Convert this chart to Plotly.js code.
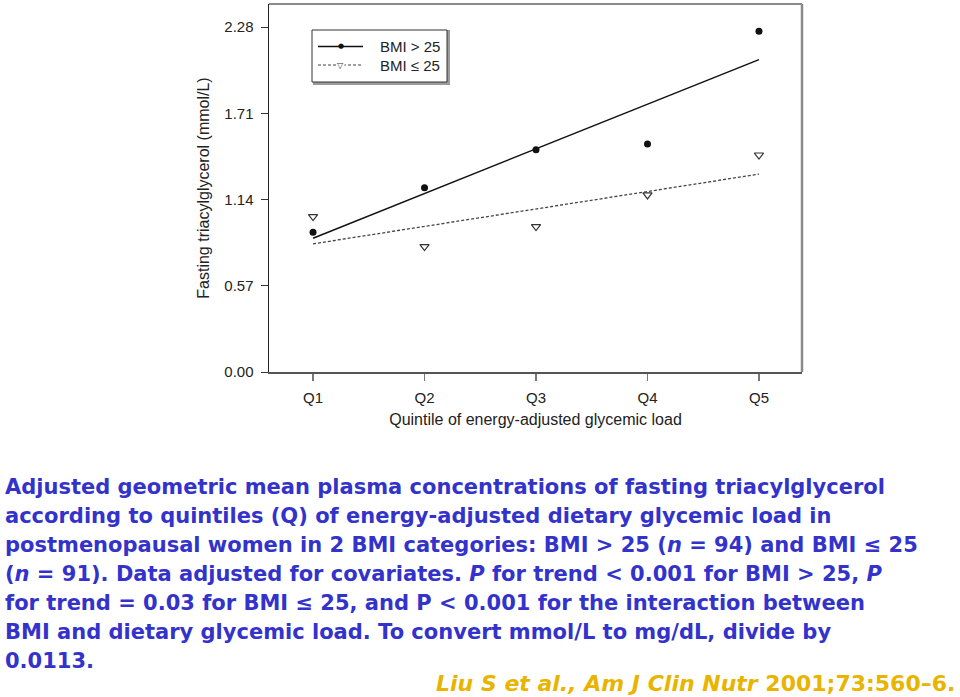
<!DOCTYPE html>
<html>
<head>
<meta charset="utf-8">
<script src="https://cdn.plot.ly/plotly-3.0.1.min.js"></script>
<style>html,body{margin:0;padding:0;background:#fff;}#chart{width:960px;height:697px;}</style>
</head>
<body>
<div id="chart"></div>
<script>
// ---- data ----
const quintiles = ['Q1', 'Q2', 'Q3', 'Q4', 'Q5'];
const bmiOver25 = [0.923, 1.218, 1.469, 1.506, 2.252];
const bmiUnder25 = [1.027, 0.829, 0.961, 1.170, 1.434];
const trendX = ['Q1', 'Q5'];
const trendOver25 = [0.884, 2.065];
const trendUnder25 = [0.847, 1.308];
const yTickVals = [0.00, 0.57, 1.14, 1.71, 2.28];
const legendNames = ['BMI > 25', 'BMI \u2264 25'];
const captionLines = [
  'Adjusted geometric mean plasma concentrations of fasting triacylglycerol',
  'according to quintiles (Q) of energy-adjusted dietary glycemic load in',
  'postmenopausal women in 2 BMI categories: BMI &gt; 25 (<i>n</i> = 94) and BMI \u2264 25',
  '(<i>n</i> = 91). Data adjusted for covariates. <i>P</i> for trend &lt; 0.001 for BMI &gt; 25, <i>P</i>',
  'for trend = 0.03 for BMI \u2264 25, and P &lt; 0.001 for the interaction between',
  'BMI and dietary glycemic load. To convert mmol/L to mg/dL, divide by',
  '0.0113.'
];
const citation = '<i>Liu S et al., Am J Clin Nutr</i> 2001;73:560\u20136.';

// ---- layout helpers (pixel -> paper) ----
const L = 269, R = 802, T = 4, B = 372;
const px = x => (x - L) / (R - L);
const py = y => (B - y) / (B - T);

const tickFont = {family: 'Liberation Sans, Arial, sans-serif', size: 15, color: '#222'};
const titleFont = {family: 'Liberation Sans, Arial, sans-serif', size: 16, color: '#222'};

const traces = [
  {x: quintiles, y: bmiOver25, mode: 'markers', marker: {symbol: 'circle', size: 7, color: '#111'}, showlegend: false},
  {x: quintiles, y: bmiUnder25, mode: 'markers', marker: {symbol: 'triangle-down-open', size: 8, color: '#333', line: {width: 1.2}}, showlegend: false},
  {x: trendX, y: trendOver25, mode: 'lines', line: {color: '#111', width: 1.4}, showlegend: false, hoverinfo: 'skip'},
  {x: trendX, y: trendUnder25, mode: 'lines', line: {color: '#444', width: 1.3, dash: '3px,2px'}, showlegend: false, hoverinfo: 'skip'}
];

const shapes = [
  {type: 'line', xref: 'paper', yref: 'paper', x0: 0, x1: 1, y0: 1, y1: 1, line: {color: '#8a8a8a', width: 2}},
  {type: 'line', xref: 'paper', yref: 'paper', x0: 1, x1: 1, y0: 0, y1: 1, line: {color: '#8a8a8a', width: 2.5}},
  {type: 'rect', xref: 'paper', yref: 'paper', x0: px(314), x1: px(449), y0: py(84), y1: py(31), line: {color: '#9a9a9a', width: 2}, fillcolor: '#9a9a9a'},
  {type: 'rect', xref: 'paper', yref: 'paper', x0: px(312), x1: px(447), y0: py(82), y1: py(30), line: {color: '#333', width: 1}, fillcolor: '#fff'},
  {type: 'line', xref: 'paper', yref: 'paper', x0: px(318), x1: px(363), y0: py(46.5), y1: py(46.5), line: {color: '#111', width: 1.4}},
  {type: 'line', xref: 'paper', yref: 'paper', x0: px(318), x1: px(363), y0: py(65), y1: py(65), line: {color: '#444', width: 1.2, dash: '3px,2px'}}
];

const annotations = [
  {xref: 'paper', yref: 'paper', x: px(378), y: py(46.5), xanchor: 'left', yanchor: 'middle', showarrow: false, text: legendNames[0], font: tickFont},
  {xref: 'paper', yref: 'paper', x: px(378), y: py(65), xanchor: 'left', yanchor: 'middle', showarrow: false, text: legendNames[1], font: tickFont},
  {xref: 'paper', yref: 'paper', x: px(340.5), y: py(46.5), xanchor: 'center', yanchor: 'middle', showarrow: false, text: '\u25CF', font: {family: 'DejaVu Sans', size: 7, color: '#111'}},
  {xref: 'paper', yref: 'paper', x: px(340.5), y: py(65), xanchor: 'center', yanchor: 'middle', showarrow: false, text: '\u25BD', font: {family: 'DejaVu Sans', size: 8, color: '#333'}, bgcolor: '#fff', borderpad: 0}
];

captionLines.forEach((t, i) => {
  annotations.push({
    xref: 'paper', yref: 'paper', x: px(3), y: py(487 + 29 * i), xanchor: 'left', yanchor: 'middle',
    showarrow: false, align: 'left', text: '<b>' + t + '</b>',
    font: {family: 'DejaVu Sans', size: 21, color: '#3333cc'}
  });
});
annotations.push({
  xref: 'paper', yref: 'paper', x: px(957), y: py(683), xanchor: 'right', yanchor: 'middle',
  showarrow: false, text: '<b>' + citation + '</b>',
  font: {family: 'DejaVu Sans', size: 22, color: '#e8b400'}
});

const layout = {
  width: 960, height: 697,
  margin: {l: L, r: 960 - R, t: T, b: 697 - B},
  paper_bgcolor: '#fff', plot_bgcolor: '#fff',
  showlegend: false,
  xaxis: {
    type: 'category', categoryorder: 'array', categoryarray: quintiles,
    range: [-0.395, 4.386],
    showgrid: false, zeroline: false,
    showline: true, linecolor: '#555', linewidth: 1.5,
    ticks: 'outside', ticklen: 7, tickcolor: '#777', tickwidth: 1.5,
    ticklabelstandoff: 4,
    tickfont: tickFont,
    title: {text: 'Quintile of energy-adjusted glycemic load', font: titleFont, standoff: 9}
  },
  yaxis: {
    range: [0, 2.432],
    tickvals: yTickVals, tickformat: '.2f',
    showgrid: false, zeroline: false,
    showline: true, linecolor: '#222', linewidth: 1.5,
    ticks: 'outside', ticklen: 7, tickcolor: '#333', tickwidth: 1,
    ticklabelstandoff: 4,
    tickfont: tickFont,
    title: {text: 'Fasting triacylglycerol (mmol/L)', font: titleFont, standoff: 10}
  },
  shapes: shapes,
  annotations: annotations
};

Plotly.newPlot('chart', traces, layout, {staticPlot: true});
</script>
</body>
</html>
